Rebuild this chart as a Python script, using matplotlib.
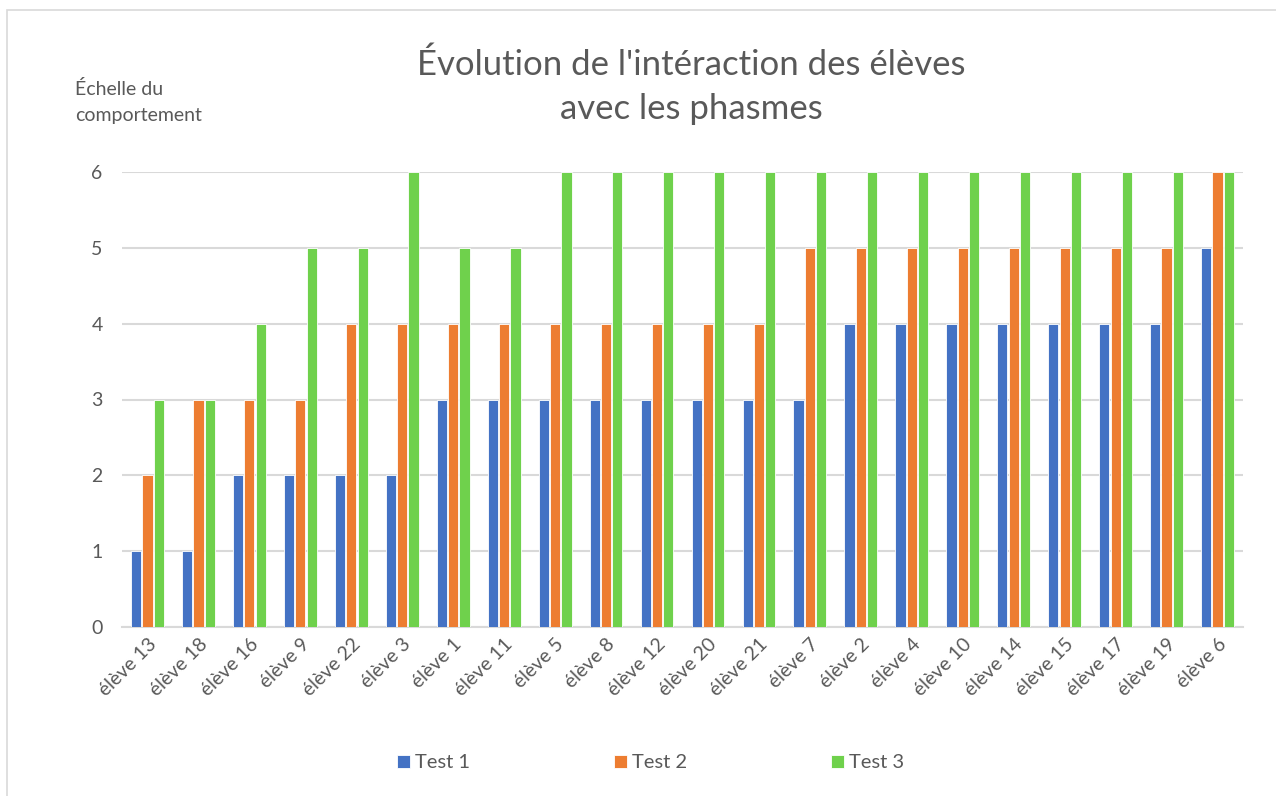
"""Évolution de l'intéraction des élèves avec les phasmes (3 tests)."""

import matplotlib.pyplot as plt
import numpy as np
from matplotlib.patches import Rectangle

eleves = ["élève 13", "élève 18", "élève 16", "élève 9", "élève 22", "élève 3",
          "élève 1", "élève 11", "élève 5", "élève 8", "élève 12", "élève 20",
          "élève 21", "élève 7", "élève 2", "élève 4", "élève 10", "élève 14",
          "élève 15", "élève 17", "élève 19", "élève 6"]
test1 = [1, 1, 2, 2, 2, 2, 3, 3, 3, 3, 3, 3, 3, 3, 4, 4, 4, 4, 4, 4, 4, 5]
test2 = [2, 3, 3, 3, 4, 4, 4, 4, 4, 4, 4, 4, 4, 5, 5, 5, 5, 5, 5, 5, 5, 6]
test3 = [3, 3, 4, 5, 5, 6, 5, 5, 6, 6, 6, 6, 6, 6, 6, 6, 6, 6, 6, 6, 6, 6]
series = [("Test 1", test1), ("Test 2", test2), ("Test 3", test3)]

BLEU, ORANGE, VERT = "#4472C4", "#ED7D31", "#6FD14C"
TEXTE, GRILLE = "#595959", "#D9D9D9"

plt.rcParams["font.family"] = ["Lato", "DejaVu Sans"]

fig = plt.figure(figsize=(12.76, 7.96), dpi=100)
fig.patches.append(Rectangle((7 / 1276, -0.1), 1.2, (796 - 10) / 796 + 0.1,
                             transform=fig.transFigure, fill=False,
                             edgecolor=GRILLE, lw=1.2))

ax = fig.add_axes([122 / 1276, 1 - 627 / 796, 1121 / 1276, 455 / 796])
x = np.arange(len(eleves))
pas = 0.222
for i, ((nom, vals), c) in enumerate(zip(series, [BLEU, ORANGE, VERT])):
    ax.bar(x + (i - 1) * pas, vals, width=0.2, color=c, edgecolor="white",
           linewidth=0.6, label=nom, zorder=3)

ax.set_xlim(-0.5, len(eleves) - 0.5)
ax.set_ylim(0, 6)
ax.set_yticks(range(7))
ax.yaxis.grid(True, color=GRILLE, lw=1.5, zorder=0)
for s in ["top", "right", "left"]:
    ax.spines[s].set_visible(False)
ax.spines["bottom"].set_color(GRILLE)
ax.spines["bottom"].set_linewidth(1.5)
ax.tick_params(length=0, colors=TEXTE, labelsize=14)
ax.tick_params(axis="y", pad=14)
ax.tick_params(axis="x", pad=6)
ax.set_xticks(x)
ax.set_xticklabels(eleves, rotation=45, ha="right", rotation_mode="anchor")

fig.text(0.542, 1 - 87 / 796, "Évolution de l'intéraction des élèves\navec les phasmes",
         ha="center", va="center", fontsize=25, color=TEXTE, linespacing=1.45)
fig.text(75 / 1276, 1 - 102 / 796, "Échelle du\ncomportement", ha="left",
         va="center", fontsize=14, color=TEXTE, linespacing=1.65)

fig.legend(loc="center", bbox_to_anchor=(0.51, 1 - 763 / 796), ncol=3,
           frameon=False, fontsize=14.5, labelcolor=TEXTE, handlelength=0.65,
           handleheight=0.65, handletextpad=0.25, columnspacing=7.15)

fig.savefig("out.png", dpi=100)
